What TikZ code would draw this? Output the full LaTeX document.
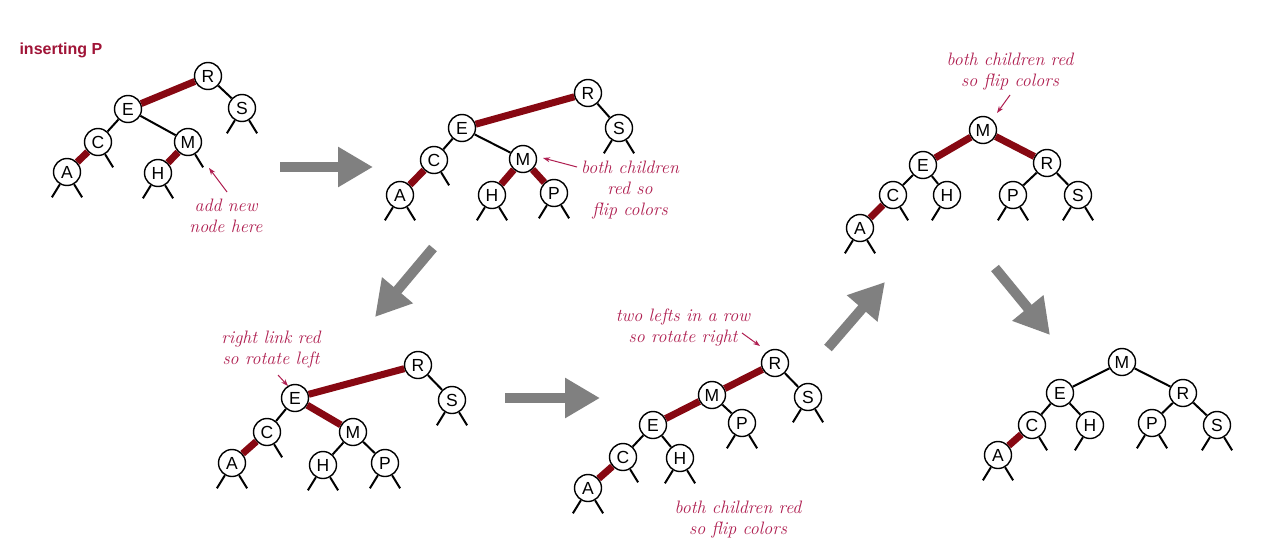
\documentclass[tikz,border=0pt]{standalone}
\usepackage{fontspec}
\setsansfont{Liberation Sans}
\usetikzlibrary{arrows.meta}
\definecolor{linkred}{RGB}{135,8,18}
\definecolor{notered}{RGB}{175,30,80}
\definecolor{titlered}{RGB}{160,20,55}
\definecolor{bigarrowgray}{RGB}{128,128,128}
\tikzset{
  key/.style={circle, draw=black, line width=1.4pt, fill=white, minimum size=27pt, inner sep=0pt,
    font=\sffamily\fontsize{17.5}{17.5}\selectfont},
  blink/.style={draw=black, line width=2pt},
  rlink/.style={draw=linkred, line width=7pt},
  note/.style={text=notered, font=\itshape\fontsize{18}{21}\selectfont, align=center},
  notearrow/.style={draw=notered, line width=1pt, -{Stealth[length=7pt,width=5pt]}},
  bigarr/.style={draw=bigarrowgray, line width=10pt, -{Triangle[length=35pt,width=38pt]}},
}
\newcommand\stubl[1]{\draw[blink] (#1.240) -- ++(-8,13);}
\newcommand\stubr[1]{\draw[blink] (#1.300) -- ++(8,13);}
\begin{document}
\begin{tikzpicture}[x=1pt,y=-1pt]
\fill[white] (0,0) rectangle (1279,557);
\useasboundingbox (0,0) rectangle (1279,557);

% title
\node[anchor=west, text=titlered, font=\sffamily\bfseries\fontsize{16}{16}\selectfont] (title) at (16,50) {inserting P};

% ---------- tree 1 ----------
\node[key] (aR) at (208,76) {R};
\node[key] (aE) at (128,109) {E};
\node[key] (aS) at (242,108) {S};
\node[key] (aC) at (98,142) {C};
\node[key] (aM) at (188,142) {M};
\node[key] (aA) at (67,172) {A};
\node[key] (aH) at (158,173) {H};
\draw[rlink] (aR) -- (aE);
\draw[blink] (aR) -- (aS);
\draw[blink] (aE) -- (aC);
\draw[blink] (aE) -- (aM);
\draw[rlink] (aC) -- (aA);
\draw[rlink] (aM) -- (aH);
\stubl{aA}\stubr{aA}\stubr{aC}\stubr{aM}\stubl{aH}\stubr{aH}\stubl{aS}\stubr{aS}
\node[note] (n1) at (226,216) {add new\\node here};
\coordinate (n1s) at (227,192);
\coordinate (n1t) at (209,168);
\draw[notearrow] (n1s) -- (n1t);

% ---------- tree 2 ----------
\node[key] (bR) at (588,93) {R};
\node[key] (bE) at (462,128) {E};
\node[key] (bS) at (619,128) {S};
\node[key] (bC) at (434,160) {C};
\node[key] (bM) at (523,159) {M};
\node[key] (bA) at (400,195) {A};
\node[key] (bH) at (492,195) {H};
\node[key] (bP) at (554,193) {P};
\draw[rlink] (bR) -- (bE);
\draw[blink] (bR) -- (bS);
\draw[blink] (bE) -- (bC);
\draw[blink] (bE) -- (bM);
\draw[rlink] (bC) -- (bA);
\draw[rlink] (bM) -- (bH);
\draw[rlink] (bM) -- (bP);
\stubl{bA}\stubr{bA}\stubr{bC}\stubl{bH}\stubr{bH}\stubl{bP}\stubr{bP}\stubl{bS}\stubr{bS}
\node[note] (n2) at (630,190) {both children\\red so\\flip colors};
\coordinate (n2s) at (577,167);
\coordinate (n2t) at (543,158);
\draw[notearrow] (n2s) -- (n2t);

% ---------- tree 3 ----------
\node[key] (cM) at (983,130) {M};
\node[key] (cE) at (923,165) {E};
\node[key] (cR) at (1047,163) {R};
\node[key] (cC) at (893,195) {C};
\node[key] (cH) at (947,195) {H};
\node[key] (cP) at (1013,195) {P};
\node[key] (cS) at (1078,195) {S};
\node[key] (cA) at (860,228) {A};
\draw[rlink] (cM) -- (cE);
\draw[rlink] (cM) -- (cR);
\draw[blink] (cE) -- (cC);
\draw[blink] (cE) -- (cH);
\draw[blink] (cR) -- (cP);
\draw[blink] (cR) -- (cS);
\draw[rlink] (cC) -- (cA);
\stubl{cA}\stubr{cA}\stubr{cC}\stubl{cH}\stubl{cP}\stubr{cP}\stubl{cS}\stubr{cS}
\node[note] (n3) at (1010,72) {both children red\\so flip colors};
\coordinate (n3s) at (1010,95);
\coordinate (n3t) at (997,113);
\draw[notearrow] (n3s) -- (n3t);

% ---------- tree 4 ----------
\node[key] (dR) at (418,365) {R};
\node[key] (dE) at (295,398) {E};
\node[key] (dS) at (452,400) {S};
\node[key] (dC) at (267,432) {C};
\node[key] (dM) at (353,432) {M};
\node[key] (dA) at (232,463) {A};
\node[key] (dH) at (323,465) {H};
\node[key] (dP) at (385,463) {P};
\draw[rlink] (dR) -- (dE);
\draw[blink] (dR) -- (dS);
\draw[blink] (dE) -- (dC);
\draw[rlink] (dE) -- (dM);
\draw[rlink] (dC) -- (dA);
\draw[blink] (dM) -- (dH);
\draw[blink] (dM) -- (dP);
\stubl{dA}\stubr{dA}\stubr{dC}\stubl{dH}\stubr{dH}\stubl{dP}\stubr{dP}\stubl{dS}\stubr{dS}
\node[note] (n4) at (271,350) {right link red\\so rotate left};
\coordinate (n4s) at (278,375);
\coordinate (n4t) at (288,386);
\draw[notearrow] (n4s) -- (n4t);

% ---------- tree 5 ----------
\node[key] (eR) at (775,363) {R};
\node[key] (eM) at (712,395) {M};
\node[key] (eS) at (808,397) {S};
\node[key] (eE) at (653,425) {E};
\node[key] (eP) at (742,423) {P};
\node[key] (eC) at (623,457) {C};
\node[key] (eH) at (680,458) {H};
\node[key] (eA) at (588,488) {A};
\draw[rlink] (eR) -- (eM);
\draw[blink] (eR) -- (eS);
\draw[rlink] (eM) -- (eE);
\draw[blink] (eM) -- (eP);
\draw[blink] (eE) -- (eC);
\draw[blink] (eE) -- (eH);
\draw[rlink] (eC) -- (eA);
\stubl{eA}\stubr{eA}\stubr{eC}\stubl{eH}\stubr{eH}\stubl{eP}\stubr{eP}\stubl{eS}\stubr{eS}
\node[note] (n5) at (683,327) {two lefts in a row\\so rotate right};
\coordinate (n5s) at (742,333);
\coordinate (n5t) at (760,346);
\draw[notearrow] (n5s) -- (n5t);
\node[note] (n6) at (738,520) {both children red\\so flip colors};

% ---------- tree 6 ----------
\node[key] (fM) at (1122,362) {M};
\node[key] (fE) at (1060,393) {E};
\node[key] (fR) at (1183,393) {R};
\node[key] (fC) at (1032,425) {C};
\node[key] (fH) at (1090,425) {H};
\node[key] (fP) at (1152,423) {P};
\node[key] (fS) at (1217,425) {S};
\node[key] (fA) at (998,455) {A};
\draw[blink] (fM) -- (fE);
\draw[blink] (fM) -- (fR);
\draw[blink] (fE) -- (fC);
\draw[blink] (fE) -- (fH);
\draw[blink] (fR) -- (fP);
\draw[blink] (fR) -- (fS);
\draw[rlink] (fC) -- (fA);
\stubl{fA}\stubr{fA}\stubr{fC}\stubl{fH}\stubl{fP}\stubr{fP}\stubl{fS}\stubr{fS}

% ---------- big arrows ----------
\coordinate (g1a) at (280,167); \coordinate (g1b) at (373,167);
\coordinate (g2a) at (433,248); \coordinate (g2b) at (375,317);
\coordinate (g3a) at (505,398); \coordinate (g3b) at (600,398);
\coordinate (g4a) at (828,348); \coordinate (g4b) at (885,282);
\coordinate (g5a) at (995,268); \coordinate (g5b) at (1050,335);
\draw[bigarr] (g1a) -- (g1b);
\draw[bigarr] (g2a) -- (g2b);
\draw[bigarr] (g3a) -- (g3b);
\draw[bigarr] (g4a) -- (g4b);
\draw[bigarr] (g5a) -- (g5b);
\end{tikzpicture}
\end{document}
